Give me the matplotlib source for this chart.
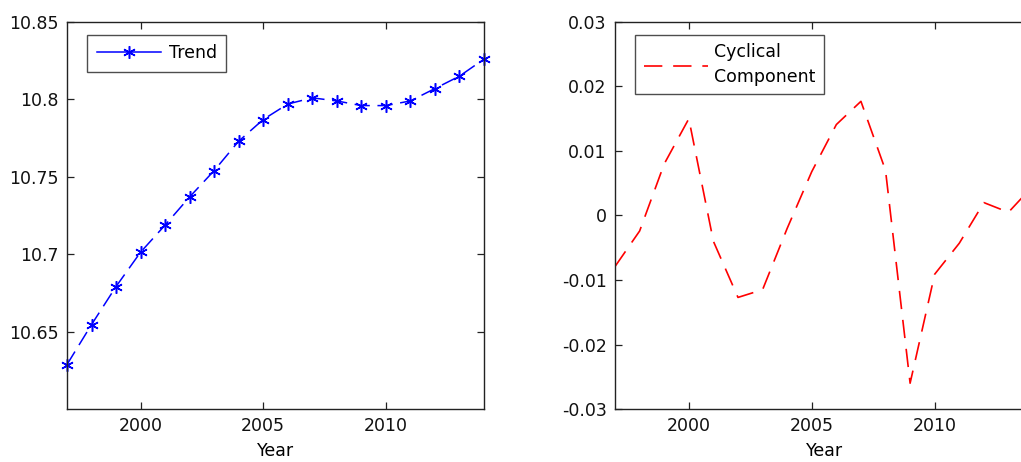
import matplotlib
matplotlib.use("Agg")
import matplotlib.pyplot as plt
from matplotlib.lines import Line2D

years = list(range(1997, 2015))
trend = [10.6287, 10.6545, 10.6791, 10.7013, 10.7188, 10.737, 10.754, 10.773, 10.787,
         10.797, 10.801, 10.799, 10.796, 10.796, 10.799, 10.807, 10.815, 10.826]
cyclical = [-0.0079, -0.0024, 0.008, 0.015, -0.004, -0.0127, -0.0115, -0.002, 0.0068,
            0.0141, 0.0177, 0.007, -0.026, -0.0091, -0.0043, 0.002, 0.0005, 0.0046]

trend_ticks = [10.65, 10.7, 10.75, 10.8, 10.85]
trend_labels = ["10.65", "10.7", "10.75", "10.8", "10.85"]
cyc_ticks = [-0.03, -0.02, -0.01, 0, 0.01, 0.02, 0.03]
cyc_labels = ["-0.03", "-0.02", "-0.01", "0", "0.01", "0.02", "0.03"]
x_ticks = [2000, 2005, 2010]

plt.rcParams["font.family"] = ["DejaVu Sans"]
plt.rcParams["font.size"] = 12.5

fig = plt.figure(figsize=(10.21, 4.62), dpi=100)

# eixos posicionados em fração da figura (o da direita sai da imagem, como no original)
ax1 = fig.add_axes([0.0656, 0.1147, 0.4084, 0.8377])
ax2 = fig.add_axes([0.6024, 0.1147, 0.4094, 0.8377])


def estilo_matlab(ax):
    for s in ax.spines.values():
        s.set_linewidth(1.0)
        s.set_color("#222222")
    ax.tick_params(direction="in", top=True, right=True, length=5, width=0.9,
                   colors="#222222", labelcolor="#111111", pad=6)
    ax.set_xlim(1997, 2014)
    ax.set_xticks(x_ticks)
    ax.set_xticklabels([str(t) for t in x_ticks])
    ax.set_xlabel("Year", labelpad=5)


# Tendência
ax1.plot(years, trend, color="#0000ff", linestyle="--", dashes=(10, 5), linewidth=1.1,
         marker=(6, 2, 0), markersize=9, markeredgewidth=1.1, clip_on=False)
ax1.set_ylim(10.60, 10.85)
ax1.set_yticks(trend_ticks)
ax1.set_yticklabels(trend_labels)
estilo_matlab(ax1)
h1 = Line2D([], [], color="#0000ff", linewidth=1.1, marker=(6, 2, 0), markersize=9,
            markeredgewidth=1.1)
leg1 = ax1.legend([h1], ["Trend"], loc="upper left", bbox_to_anchor=(0.048, 0.967),
                  fancybox=False, edgecolor="#222222", handlelength=3.7,
                  borderpad=0.55, handletextpad=0.45, borderaxespad=0)
leg1.get_frame().set_linewidth(1.0)

# Componente cíclico
ax2.plot(years, cyclical, color="#ff0000", linestyle="--", dashes=(11, 6.5), linewidth=1.2)
ax2.set_ylim(-0.03, 0.03)
ax2.set_yticks(cyc_ticks)
ax2.set_yticklabels(cyc_labels)
estilo_matlab(ax2)
leg2 = ax2.legend(["Cyclical\nComponent"], loc="upper left", bbox_to_anchor=(0.048, 0.967),
                  fancybox=False, edgecolor="#222222", handlelength=3.7,
                  borderpad=0.5, handletextpad=0.35, borderaxespad=0)
leg2.get_frame().set_linewidth(1.0)
for t in leg2.get_texts():
    t.set_linespacing(1.45)

fig.savefig("out.png", dpi=100)
